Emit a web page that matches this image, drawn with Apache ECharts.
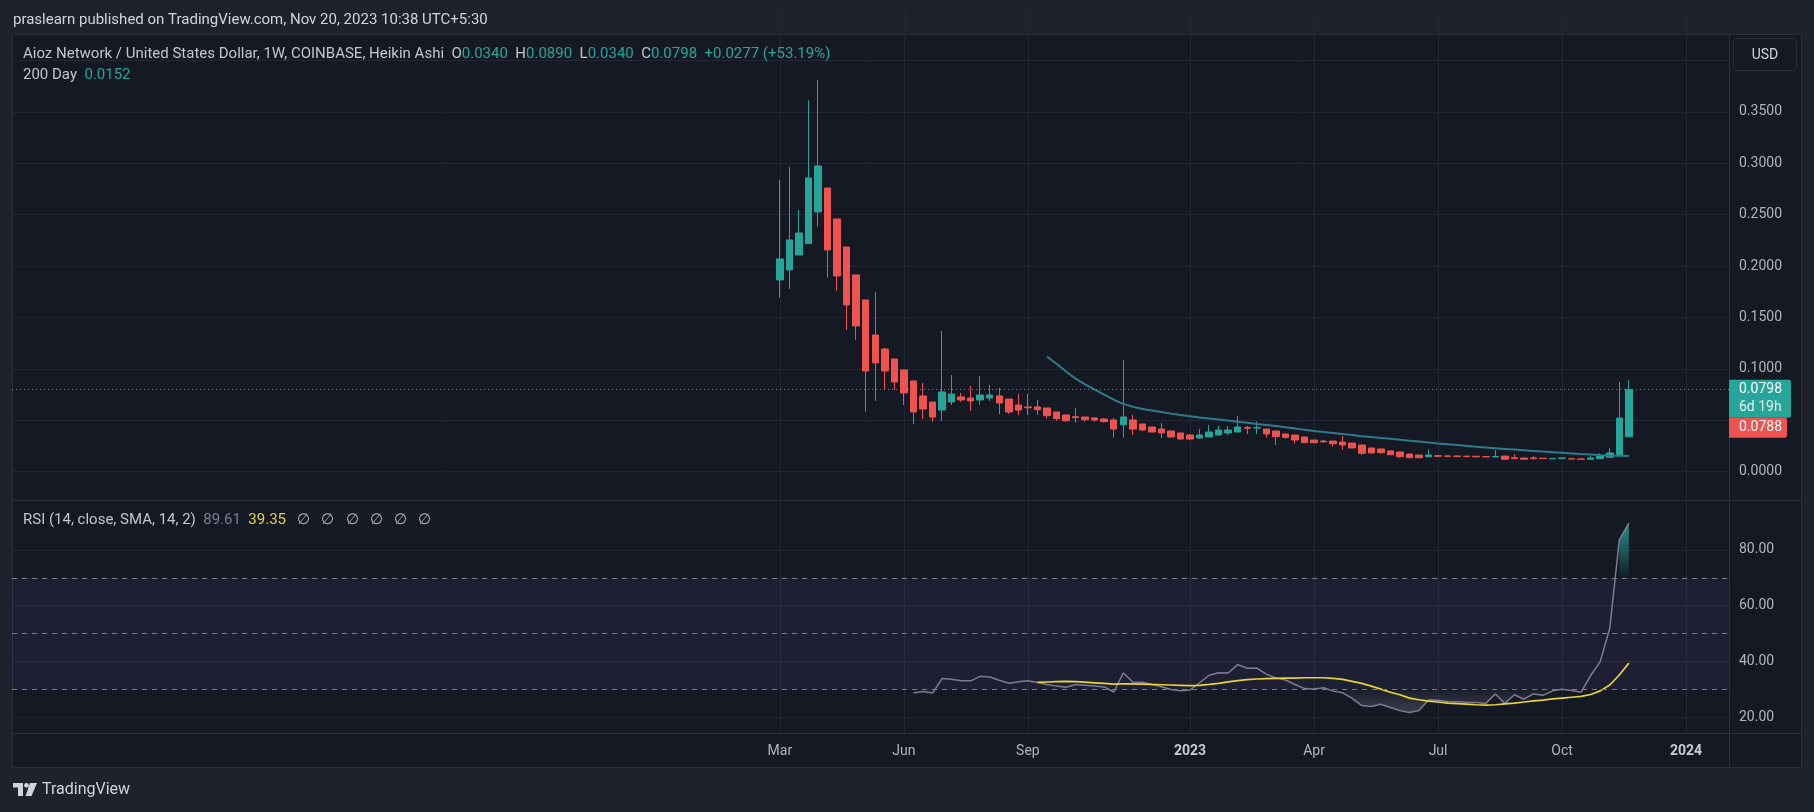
<!DOCTYPE html>
<html>
<head>
<meta charset="utf-8">
<script src="https://cdn.jsdelivr.net/npm/echarts@6/dist/echarts.min.js"></script>
<style>
html,body{margin:0;padding:0;background:#1f222c;}
#wrap{position:relative;width:1814px;height:812px;background:#1f222c;overflow:hidden;}
#frame{position:absolute;left:12px;top:34px;width:1788px;height:732px;background:#151924;border:1px solid #2a2e39;}
#c{position:absolute;left:0;top:0;width:1814px;height:812px;}
</style>
</head>
<body>
<div id="wrap"><div id="frame"></div><div id="c"></div></div>
<script>
// ---------------- DATA ----------------
const firstWeek = '2022-03-07';        // first weekly bar (Monday)
const weeksBefore = 80, weeksAfter = 10; // empty space on the time scale
// Heikin Ashi weekly bars: [open, close, low, high]
const ohlc = [
 [0.1865,0.2070,0.1693,0.2838],[0.1963,0.2255,0.1778,0.2965],[0.2108,0.2322,0.2108,0.2546],[0.2219,0.2858,0.2219,0.3613],
 [0.2527,0.2974,0.2384,0.3811],[0.2760,0.2157,0.1888,0.2760],[0.2459,0.1904,0.1761,0.2459],[0.2186,0.1622,0.1379,0.2186],
 [0.1914,0.1418,0.1282,0.1914],[0.1671,0.0980,0.0584,0.1671],[0.1330,0.1058,0.0688,0.1748],[0.1194,0.0980,0.0795,0.1204],
 [0.1097,0.0873,0.0795,0.1097],[0.0990,0.0766,0.0649,0.0990],[0.0883,0.0581,0.0464,0.0883],[0.0737,0.0610,0.0513,0.0863],
 [0.0678,0.0532,0.0484,0.0678],[0.0600,0.0776,0.0493,0.1369],[0.0678,0.0756,0.0649,0.0941],[0.0727,0.0698,0.0678,0.0766],
 [0.0717,0.0688,0.0590,0.0834],[0.0698,0.0746,0.0649,0.0931],[0.0717,0.0746,0.0688,0.0844],[0.0737,0.0668,0.0561,0.0815],
 [0.0707,0.0581,0.0561,0.0707],[0.0649,0.0600,0.0551,0.0756],[0.0630,0.0622,0.0551,0.0756],[0.0630,0.0603,0.0555,0.0698],
 [0.0620,0.0545,0.0516,0.0620],[0.0581,0.0516,0.0496,0.0581],[0.0552,0.0496,0.0487,0.0552],[0.0535,0.0526,0.0477,0.0620],
 [0.0532,0.0506,0.0487,0.0532],[0.0523,0.0503,0.0487,0.0532],[0.0513,0.0487,0.0477,0.0523],[0.0503,0.0415,0.0331,0.0523],
 [0.0457,0.0532,0.0331,0.1087],[0.0503,0.0415,0.0357,0.0552],[0.0464,0.0406,0.0396,0.0464],[0.0435,0.0386,0.0386,0.0435],
 [0.0415,0.0377,0.0328,0.0474],[0.0396,0.0338,0.0328,0.0396],[0.0377,0.0318,0.0308,0.0377],[0.0357,0.0318,0.0308,0.0367],
 [0.0328,0.0357,0.0318,0.0415],[0.0338,0.0386,0.0338,0.0454],[0.0357,0.0406,0.0357,0.0445],[0.0377,0.0406,0.0357,0.0445],
 [0.0386,0.0435,0.0386,0.0542],[0.0430,0.0422,0.0367,0.0445],[0.0425,0.0428,0.0367,0.0490],[0.0415,0.0367,0.0331,0.0415],
 [0.0396,0.0341,0.0260,0.0396],[0.0367,0.0334,0.0322,0.0367],[0.0357,0.0308,0.0272,0.0357],[0.0338,0.0282,0.0282,0.0338],
 [0.0308,0.0282,0.0282,0.0308],[0.0298,0.0290,0.0282,0.0308],[0.0298,0.0272,0.0243,0.0298],[0.0288,0.0260,0.0214,0.0347],
 [0.0279,0.0231,0.0231,0.0279],[0.0260,0.0179,0.0162,0.0260],[0.0231,0.0182,0.0182,0.0231],[0.0221,0.0185,0.0175,0.0228],
 [0.0202,0.0165,0.0165,0.0202],[0.0192,0.0146,0.0136,0.0192],[0.0172,0.0136,0.0136,0.0172],[0.0162,0.0136,0.0136,0.0162],
 [0.0146,0.0162,0.0146,0.0218],[0.0155,0.0151,0.0148,0.0158],[0.0153,0.0150,0.0147,0.0156],[0.0152,0.0149,0.0143,0.0160],
 [0.0151,0.0149,0.0148,0.0152],[0.0150,0.0145,0.0143,0.0152],[0.0147,0.0144,0.0142,0.0148],[0.0144,0.0148,0.0136,0.0211],
 [0.0152,0.0121,0.0121,0.0152],[0.0136,0.0127,0.0127,0.0172],[0.0133,0.0121,0.0121,0.0133],[0.0134,0.0128,0.0117,0.0150],
 [0.0131,0.0128,0.0128,0.0131],[0.0126,0.0129,0.0124,0.0131],[0.0130,0.0134,0.0128,0.0136],[0.0126,0.0124,0.0124,0.0127],
 [0.0124,0.0121,0.0120,0.0125],[0.0121,0.0133,0.0121,0.0152],[0.0127,0.0152,0.0127,0.0179],[0.0140,0.0182,0.0140,0.0227],
 [0.0161,0.0522,0.0146,0.0873],[0.0340,0.0798,0.0340,0.0890]
];
// "200 Day" moving average, starting at bar 28
const maStart = 28;
const ma200 = [0.1119,0.1050,0.0975,0.0905,0.0850,0.0798,0.0750,0.0700,0.0660,0.0632,0.0610,0.0595,0.0580,0.0565,
 0.0552,0.0540,0.0528,0.0518,0.0508,0.0497,0.0487,0.0476,0.0465,0.0455,0.0444,0.0432,0.0420,0.0408,0.0396,0.0386,
 0.0376,0.0366,0.0356,0.0346,0.0337,0.0328,0.0320,0.0311,0.0302,0.0293,0.0284,0.0275,0.0267,0.0259,0.0251,0.0243,
 0.0236,0.0229,0.0222,0.0215,0.0208,0.0202,0.0196,0.0190,0.0184,0.0178,0.0172,0.0167,0.0162,0.0158,0.0155,0.0152];
// RSI(14), starting at bar 14
const rsiStart = 14;
const rsi = [28.6,29.2,28.6,33.8,33.6,33.0,33.0,34.6,34.4,33.2,32.1,32.7,33.0,32.4,31.7,31.1,30.7,31.7,31.4,31.1,30.8,
 29.0,35.8,32.6,32.5,31.7,30.9,29.9,29.4,29.7,32.3,35.0,35.9,35.8,38.8,37.5,37.6,35.4,34.0,33.3,31.7,30.2,30.1,30.5,
 29.3,28.7,26.7,24.1,23.8,24.6,23.4,22.3,21.6,22.3,26.1,26.0,25.6,25.5,25.3,25.2,24.9,28.3,24.9,28.0,26.4,28.3,27.8,
 29.4,30.0,29.5,28.9,34.9,39.9,51.9,83.6,89.61];
// SMA(14) of RSI, starting at bar 27
const smaStart = 27;
const rsiSma = [32.45,32.57,32.69,32.81,32.69,32.5,32.3,32.1,31.85,31.9,31.9,31.85,31.7,31.6,31.5,31.4,31.25,31.4,31.7,
 32.1,32.6,33.05,33.4,33.65,33.8,33.9,33.95,34.0,34.1,34.1,34.1,33.9,33.5,32.8,32.1,31.1,30.0,28.9,28.0,26.8,26.2,25.7,
 25.4,25.0,24.8,24.6,24.4,24.3,24.4,24.7,25.0,25.4,25.8,26.1,26.5,26.8,27.1,27.4,28.1,29.4,31.5,35.1,39.35];
const rsiLevels = [70, 50, 30];
const rsiBand = [30, 70];
// time-axis tick labels
const tickDates = ['2022-03-07','2022-06-06','2022-09-05','2023-01-02','2023-04-03','2023-07-03','2023-10-02','2024-01-01'];
const tickTexts = ['Mar','Jun','Sep','2023','Apr','Jul','Oct','2024'];
const hiddenPriceLabels = [0.05, 0.40];
// texts
const headerText = 'praslearn published on TradingView.com, Nov 20, 2023 10:38 UTC+5:30';
const symbolTitle = 'Aioz Network / United States Dollar, 1W, COINBASE, Heikin Ashi';
const changeText = '+0.0277 (+53.19%)';
const maTitle = '200 Day';
const rsiTitle = 'RSI (14, close, SMA, 14, 2)';
const countdownText = '6d 19h';
const realClose = 0.0788;
// ---------------- BUILD ----------------
const DAY = 86400000;
const t0 = Date.parse(firstWeek + 'T00:00:00Z');
const weeks = [];
for (let i = -weeksBefore; i < ohlc.length + weeksAfter; i++) {
  weeks.push(new Date(t0 + i * 7 * DAY).toISOString().slice(0, 10));
}
const barDate = i => weeks[weeksBefore + i];
const candleData = ohlc.map((d, i) => [barDate(i), d[0], d[1], d[2], d[3]]);
const maData = ma200.map((v, i) => [barDate(maStart + i), v]);
const rsiData = rsi.map((v, i) => [barDate(rsiStart + i), v]);
const smaData = rsiSma.map((v, i) => [barDate(smaStart + i), v]);
const lo = rsiBand[0], hi = rsiBand[1];
const osBase = rsi.map((v, i) => [barDate(rsiStart + i), Math.min(v, lo)]);
const osFill = rsi.map((v, i) => [barDate(rsiStart + i), lo - Math.min(v, lo)]);
const obIdx = rsi.map((v, i) => i).filter(i => rsi[i] > hi);
const obBase = obIdx.map(i => [barDate(rsiStart + i), hi]);
const obFill = obIdx.map(i => [barDate(rsiStart + i), rsi[i] - hi]);
const last = ohlc[ohlc.length - 1];

const UP = '#26a69a', DOWN = '#ef5350', GRIDC = '#232733', TXT = '#b2b5be', FONT = 'Roboto';
const LF = 15; // legend font size
const isTick = (idx, val) => tickDates.indexOf(val) >= 0;
const tickFmt = val => {
  const t = tickTexts[tickDates.indexOf(val)] || '';
  return /^\d{4}$/.test(t) ? '{b|' + t + '}' : t;
};

const chart = echarts.init(document.getElementById('c'));
const option = {
  animation: false,
  backgroundColor: 'transparent',
  textStyle: { fontFamily: FONT },
  grid: [
    { left: 12, width: 1717, top: 9.1, height: 514 },
    { left: 12, width: 1717, top: 494.3, height: 278.4 },
    { left: 12, width: 1717, top: 500, height: 233 }
  ],
  xAxis: [
    { gridIndex: 0, type: 'category', data: weeks, boundaryGap: true,
      axisLine: { show: false }, axisTick: { show: false }, axisLabel: { show: false },
      splitLine: { show: true, alignWithLabel: true, interval: isTick, lineStyle: { color: GRIDC, width: 1 } } },
    { gridIndex: 1, type: 'category', data: weeks, boundaryGap: true,
      axisLine: { show: false }, axisTick: { show: false }, axisLabel: { show: false }, splitLine: { show: false } },
    { gridIndex: 2, type: 'category', data: weeks, boundaryGap: true,
      axisLine: { show: false }, axisTick: { show: false },
      axisLabel: { show: true, interval: isTick, formatter: tickFmt, margin: 11, color: TXT, fontSize: 14, fontFamily: FONT,
        rich: { b: { fontWeight: 'bold', color: '#c8cbd3', fontSize: 14, fontFamily: FONT } } },
      splitLine: { show: true, alignWithLabel: true, interval: isTick, lineStyle: { color: GRIDC, width: 1 } } }
  ],
  yAxis: [
    { gridIndex: 0, type: 'value', position: 'right', min: -0.05, max: 0.45, interval: 0.05, scale: false,
      axisLine: { show: false }, axisTick: { show: false },
      axisLabel: { margin: 10, color: TXT, fontSize: 14, fontFamily: FONT, showMinLabel: false, showMaxLabel: false,
        formatter: v => hiddenPriceLabels.some(h => Math.abs(h - v) < 1e-9) ? '' : v.toFixed(4) },
      splitLine: { show: true, showMinLine: false, showMaxLine: false, lineStyle: { color: GRIDC, width: 1 } } },
    { gridIndex: 1, type: 'value', position: 'right', min: 0, max: 100, interval: 20,
      axisLine: { show: false }, axisTick: { show: false },
      axisLabel: { margin: 10, color: TXT, fontSize: 14, fontFamily: FONT, showMinLabel: false, showMaxLabel: false,
        formatter: v => v.toFixed(2) },
      splitLine: { show: true, showMinLine: false, showMaxLine: false, lineStyle: { color: GRIDC, width: 1 } } },
    { gridIndex: 2, type: 'value', show: false }
  ],
  series: [
    { type: 'candlestick', name: 'price', xAxisIndex: 0, yAxisIndex: 0, data: candleData,
      encode: { x: 0, y: [1, 2, 3, 4] }, barWidth: 7, z: 3,
      itemStyle: { color: UP, color0: DOWN, borderColor: UP, borderColor0: DOWN, borderWidth: 1 },
      markLine: { silent: true, symbol: ['none', 'none'], label: { show: false },
        lineStyle: { type: [1, 3], color: UP, width: 1 }, data: [{ yAxis: last[1] }] } },
    { type: 'line', name: maTitle, xAxisIndex: 0, yAxisIndex: 0, data: maData, showSymbol: false, z: 4,
      lineStyle: { color: '#2e7b8c', width: 2 } },
    { type: 'line', name: 'osBase', xAxisIndex: 1, yAxisIndex: 1, data: osBase, stack: 'os', showSymbol: false,
      lineStyle: { width: 0, opacity: 0 }, z: 1 },
    { type: 'line', name: 'osFill', xAxisIndex: 1, yAxisIndex: 1, data: osFill, stack: 'os', showSymbol: false,
      lineStyle: { width: 0, opacity: 0 }, z: 1,
      areaStyle: { opacity: 1, color: new echarts.graphic.LinearGradient(0, 0, 0, 1,
        [{ offset: 0, color: 'rgba(170,170,190,0.04)' }, { offset: 1, color: 'rgba(170,170,190,0.26)' }]) } },
    { type: 'line', name: 'obBase', xAxisIndex: 1, yAxisIndex: 1, data: obBase, stack: 'ob', showSymbol: false,
      lineStyle: { width: 0, opacity: 0 }, z: 1 },
    { type: 'line', name: 'obFill', xAxisIndex: 1, yAxisIndex: 1, data: obFill, stack: 'ob', showSymbol: false,
      lineStyle: { width: 0, opacity: 0 }, z: 1,
      areaStyle: { opacity: 1, color: new echarts.graphic.LinearGradient(0, 0, 0, 1,
        [{ offset: 0, color: 'rgba(38,166,154,0.85)' }, { offset: 1, color: 'rgba(38,166,154,0.03)' }]) } },
    { type: 'line', name: 'RSI', xAxisIndex: 1, yAxisIndex: 1, data: rsiData, showSymbol: false, z: 3,
      lineStyle: { color: '#7f7b95', width: 1.5 },
      markArea: { silent: true, itemStyle: { color: 'rgba(126,87,194,0.10)' },
        data: [[{ yAxis: rsiBand[0] }, { yAxis: rsiBand[1] }]] },
      markLine: { silent: true, symbol: ['none', 'none'], label: { show: false },
        lineStyle: { type: [5, 5], color: '#787b86', width: 1 }, data: rsiLevels.map(v => ({ yAxis: v })) } },
    { type: 'line', name: 'RSI SMA', xAxisIndex: 1, yAxisIndex: 1, data: smaData, showSymbol: false, z: 4,
      lineStyle: { color: '#e6d534', width: 1.7 } }
  ]
};
chart.setOption(option);

// ---------------- OVERLAY TEXT / LABELS ----------------
const pyClose = chart.convertToPixel({ yAxisIndex: 0 }, last[1]);
const axisX = 1729;
const f = (v) => v.toFixed(4);
const g = [];
const line = (x1, y1, x2, y2) => ({ type: 'line', silent: true, z: 50,
  shape: { x1, y1, x2, y2 }, style: { stroke: '#2a2e39', lineWidth: 1 } });
const rs = (fill) => ({ fill, fontSize: LF, fontFamily: FONT });
g.push(line(12, 500.5, 1801, 500.5));
g.push(line(12, 733.5, 1801, 733.5));
g.push(line(axisX + 0.5, 34, axisX + 0.5, 767));
g.push({ type: 'text', x: 13, y: 20, silent: true, z: 50,
  style: { text: headerText, fill: '#d1d4dc', fontSize: LF, fontFamily: FONT, verticalAlign: 'middle' } });
g.push({ type: 'text', x: 23, y: 54, silent: true, z: 50,
  style: { text: '{t|' + symbolTitle + '}{k|  O}{v|' + f(last[0]) + '}{k|  H}{v|' + f(last[3]) + '}{k|  L}{v|' + f(last[2]) +
      '}{k|  C}{v|' + f(last[1]) + '}{v|  ' + changeText + '}',
    fontSize: LF, fontFamily: FONT, verticalAlign: 'middle',
    rich: { t: rs('#c3c6ce'), k: rs('#c3c6ce'), v: rs(UP) } } });
g.push({ type: 'text', x: 23, y: 75, silent: true, z: 50,
  style: { text: '{t|' + maTitle + '}{v|  ' + f(ma200[ma200.length - 1]) + '}', fontSize: LF, fontFamily: FONT, verticalAlign: 'middle',
    rich: { t: rs('#c3c6ce'), v: rs(UP) } } });
g.push({ type: 'text', x: 23, y: 520, silent: true, z: 50,
  style: { text: '{t|' + rsiTitle + '}{r|  ' + rsi[rsi.length - 1].toFixed(2) + '}{y|  ' + rsiSma[rsiSma.length - 1].toFixed(2) +
      '}{n|   ∅   ∅   ∅   ∅   ∅   ∅}', fontSize: LF, fontFamily: FONT, verticalAlign: 'middle',
    rich: { t: rs('#c3c6ce'), r: rs('#7f7b95'), y: rs('#e6d534'), n: rs('#b2b5be') } } });
// USD box
g.push({ type: 'rect', silent: true, z: 50, shape: { x: 1733.5, y: 38.5, width: 63, height: 32, r: 4 },
  style: { fill: '#151924', stroke: '#2a2e39', lineWidth: 1 } });
g.push({ type: 'text', x: 1765, y: 55, silent: true, z: 51,
  style: { text: 'USD', fill: '#d1d4dc', fontSize: 14, fontFamily: FONT, align: 'center', verticalAlign: 'middle' } });
// last price label + countdown
g.push({ type: 'rect', silent: true, z: 50, shape: { x: axisX, y: pyClose - 10, width: 62, height: 38, r: [0, 2, 2, 0] },
  style: { fill: UP } });
g.push({ type: 'text', x: 1739, y: pyClose, silent: true, z: 51,
  style: { text: f(last[1]), fill: '#ffffff', fontSize: 14, fontFamily: FONT, verticalAlign: 'middle' } });
g.push({ type: 'text', x: 1739, y: pyClose + 18, silent: true, z: 51,
  style: { text: countdownText, fill: '#e8f0ef', fontSize: 14, fontFamily: FONT, verticalAlign: 'middle' } });
g.push({ type: 'rect', silent: true, z: 50, shape: { x: axisX, y: pyClose + 28, width: 58, height: 20, r: [0, 2, 2, 0] },
  style: { fill: DOWN } });
g.push({ type: 'text', x: 1739, y: pyClose + 38, silent: true, z: 51,
  style: { text: f(realClose), fill: '#ffffff', fontSize: 14, fontFamily: FONT, verticalAlign: 'middle' } });
// TradingView logo
const LC = '#d1d4dc';
g.push({ type: 'rect', silent: true, z: 50, shape: { x: 13, y: 783, width: 10, height: 4.5 }, style: { fill: LC } });
g.push({ type: 'rect', silent: true, z: 50, shape: { x: 18, y: 783, width: 5, height: 13 }, style: { fill: LC } });
g.push({ type: 'circle', silent: true, z: 50, shape: { cx: 26.5, cy: 785.3, r: 2.4 }, style: { fill: LC } });
g.push({ type: 'polygon', silent: true, z: 50, shape: { points: [[30, 783], [37, 783], [31.5, 796], [25.5, 796]] }, style: { fill: LC } });
g.push({ type: 'text', x: 42, y: 790, silent: true, z: 50,
  style: { text: 'TradingView', fill: LC, fontSize: 16, fontFamily: FONT, verticalAlign: 'middle' } });
chart.setOption({ graphic: g });
</script>
</body>
</html>
